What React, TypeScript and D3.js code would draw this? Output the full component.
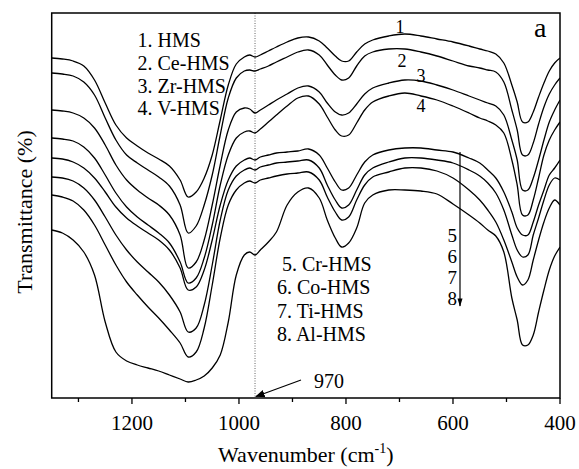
import React from "react";
import * as d3 from "d3";

// Wavenumber grid (cm^-1)
const wavenumbers = [1350, 1330, 1310, 1290, 1270, 1250, 1230, 1210, 1190, 1170, 1150, 1130, 1110, 1095, 1080, 1065, 1050, 1035, 1020, 1005, 990, 980, 970, 960, 945, 930, 910, 890, 870, 850, 835, 820, 808, 795, 780, 765, 750, 720, 690, 660, 630, 600, 570, 550, 535, 520, 505, 490, 480, 470, 460, 450, 440, 430, 420, 410, 400];

// Transmittance (a.u., offset spectra)
const hms = [340, 339, 337, 332, 318, 295, 273, 260, 252, 245, 239, 232, 218, 201, 206, 220, 243, 278, 313, 334, 341, 343, 341, 343, 347, 351, 356, 360, 361, 357, 350, 342, 337, 337, 346, 354, 358, 362, 364, 362, 359, 356, 352, 349, 347, 344, 335, 313, 296, 276, 276, 286, 301, 315, 327, 335, 340];
const ceHms = [325, 324, 322, 316, 303, 280, 258, 243, 235, 228, 221, 212, 193, 165, 172, 193, 223, 263, 300, 320, 327, 328, 327, 329, 332, 336, 341, 346, 348, 343, 333, 323, 318, 320, 332, 342, 346, 349, 349, 346, 342, 337, 332, 330, 328, 326, 316, 288, 268, 243, 243, 255, 274, 291, 304, 313, 320];
const zrHms = [288, 287, 285, 280, 270, 253, 233, 218, 208, 200, 193, 183, 163, 130, 136, 158, 193, 233, 268, 286, 290, 289, 285, 288, 293, 298, 304, 310, 312, 306, 295, 286, 283, 285, 294, 304, 310, 315, 318, 317, 313, 308, 302, 298, 295, 292, 283, 258, 238, 208, 208, 220, 238, 258, 276, 288, 298];
const vHms = [260, 259, 257, 251, 240, 223, 205, 191, 181, 173, 165, 155, 136, 115, 120, 140, 173, 213, 243, 260, 266, 267, 265, 269, 276, 283, 292, 300, 302, 294, 281, 268, 262, 263, 275, 288, 296, 302, 305, 302, 298, 292, 285, 280, 277, 273, 265, 238, 213, 183, 183, 198, 220, 243, 258, 268, 276];
const crHms = [240, 239, 236, 230, 220, 206, 191, 180, 172, 165, 158, 148, 130, 108, 111, 128, 158, 193, 218, 232, 238, 240, 238, 241, 243, 245, 246, 247, 249, 243, 230, 216, 208, 210, 223, 236, 243, 248, 250, 250, 248, 246, 240, 235, 228, 220, 206, 186, 170, 163, 163, 176, 193, 208, 223, 230, 238];
const coHms = [221, 220, 217, 210, 198, 181, 163, 148, 136, 126, 116, 103, 86, 66, 70, 93, 133, 178, 208, 222, 228, 230, 228, 231, 233, 235, 236, 237, 238, 230, 213, 198, 190, 193, 208, 223, 230, 236, 240, 240, 238, 235, 228, 222, 215, 205, 188, 163, 148, 141, 143, 163, 180, 198, 213, 220, 218];
const tiHms = [203, 201, 197, 188, 173, 153, 133, 116, 103, 91, 80, 68, 55, 41, 46, 70, 113, 160, 193, 208, 215, 217, 215, 218, 220, 222, 224, 225, 226, 218, 201, 186, 178, 181, 198, 213, 221, 226, 230, 230, 227, 220, 208, 198, 188, 176, 158, 136, 121, 113, 118, 138, 158, 176, 190, 198, 193];
const alHms = [168, 165, 158, 146, 123, 76, 46, 37, 33, 30, 27, 23, 19, 16, 18, 22, 30, 43, 76, 123, 143, 146, 143, 148, 156, 166, 193, 206, 210, 200, 178, 160, 151, 155, 170, 195, 203, 208, 208, 207, 204, 194, 183, 175, 168, 162, 146, 100, 78, 53, 53, 63, 86, 108, 128, 142, 151];

const series = [hms, ceHms, zrHms, vHms, crHms, coHms, tiHms, alHms];
const legendTop = ["1. HMS", "2. Ce-HMS", "3. Zr-HMS", "4. V-HMS"];
const legendBottom = ["5. Cr-HMS", "6. Co-HMS", "7. Ti-HMS", "8. Al-HMS"];
const majorTicks = [1200, 1000, 800, 600, 400];
const minorTicks = [1300, 1100, 900, 700, 500];
const markerWavenumber = 970;

const W = 579;
const H = 469;
const left = 51.7, right = 560, top = 13, bottom = 398;
const FONT = "'Liberation Serif', 'Times New Roman', serif";

export default function App() {
  const x = d3.scaleLinear().domain([1350, 400]).range([left, right]);
  const y = d3.scaleLinear().domain([0, 385]).range([bottom, top]);
  const line = d3
    .line<number>()
    .x((_, i) => x(wavenumbers[i]))
    .y((d) => y(d))
    .curve(d3.curveCatmullRom.alpha(0.5));

  const mx = x(markerWavenumber);

  return (
    <svg
      width={W}
      height={H}
      style={{ position: "absolute", left: 0, top: 0, background: "#fff" }}
      fontFamily={FONT}
    >
      <defs>
        <marker id="ah" viewBox="0 0 10 10" refX="9" refY="5" markerWidth="8" markerHeight="8" orient="auto">
          <path d="M0,1 L10,5 L0,9 Z" fill="#000" />
        </marker>
        <marker id="ahd" viewBox="0 0 10 10" refX="9" refY="5" markerWidth="7" markerHeight="9" orient="auto">
          <path d="M0,2 L10,5 L0,8 Z" fill="#000" />
        </marker>
        <clipPath id="plot">
          <rect x={left} y={top} width={right - left} height={bottom - top} />
        </clipPath>
      </defs>

      {/* 970 marker line */}
      <line x1={mx} x2={mx} y1={top} y2={bottom} stroke="#666" strokeWidth={1} strokeDasharray="1,1.5" />

      <g clipPath="url(#plot)">
        {series.map((s, i) => (
          <path key={i} d={line(s) || ""} fill="none" stroke="#000" strokeWidth={1.3} />
        ))}
      </g>

      {/* frame */}
      <rect x={left} y={top} width={right - left} height={bottom - top} fill="none" stroke="#000" strokeWidth={1.5} />

      {/* ticks */}
      {majorTicks.map((t) => (
        <g key={"M" + t}>
          <line x1={x(t)} x2={x(t)} y1={bottom} y2={bottom + 6} stroke="#000" strokeWidth={1.3} />
          <text x={x(t)} y={430} textAnchor="middle" fontSize={21}>
            {t}
          </text>
        </g>
      ))}
      {minorTicks.map((t) => (
        <line key={"m" + t} x1={x(t)} x2={x(t)} y1={bottom} y2={bottom + 4} stroke="#000" strokeWidth={1.3} />
      ))}

      {/* axis titles */}
      <text x={(left + right) / 2} y={462} textAnchor="middle" fontSize={22}>
        Wavenumber (cm
        <tspan fontSize={14} dy={-9}>-1</tspan>
        <tspan dy={9}>)</tspan>
      </text>
      <text transform={`translate(32, 212) rotate(-90)`} textAnchor="middle" fontSize={22}>
        Transmittance (%)
      </text>

      {/* legends */}
      {legendTop.map((t, i) => (
        <text key={t} x={137.5} y={47 + i * 22.8} fontSize={20}>
          {t}
        </text>
      ))}
      {legendBottom.map((t, i) => (
        <text key={t} x={i === 0 ? 282 : 277} y={271 + i * 23.3} fontSize={20}>
          {t}
        </text>
      ))}

      {/* curve labels */}
      <text x={400} y={33} textAnchor="middle" fontSize={18}>1</text>
      <text x={402} y={67} textAnchor="middle" fontSize={18}>2</text>
      <text x={421} y={82} textAnchor="middle" fontSize={18}>3</text>
      <text x={421} y={112} textAnchor="middle" fontSize={18}>4</text>
      {["5", "6", "7", "8"].map((t, i) => (
        <text key={t} x={457} y={242 + i * 21} textAnchor="end" fontSize={19}>
          {t}
        </text>
      ))}
      <line x1={460} x2={460} y1={152} y2={306} stroke="#000" strokeWidth={1.2} markerEnd="url(#ahd)" />

      {/* panel label */}
      <text x={534} y={37} fontSize={28}>a</text>

      {/* 970 annotation */}
      <line x1={301} y1={380} x2={mx + 1} y2={396.5} stroke="#000" strokeWidth={1.2} markerEnd="url(#ah)" />
      <text x={314} y={388} fontSize={20}>970</text>
    </svg>
  );
}
